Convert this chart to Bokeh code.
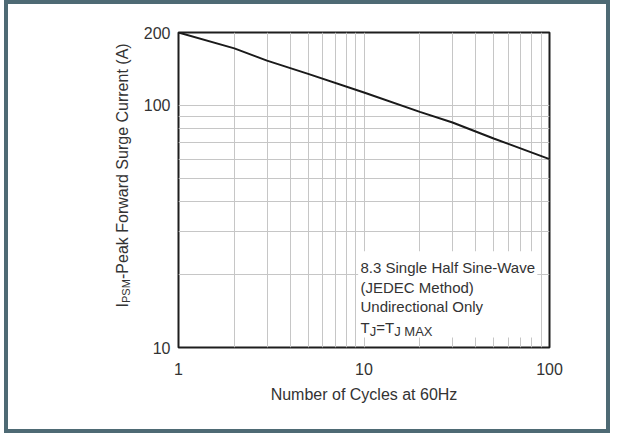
import math
from bokeh.plotting import figure
from bokeh.models import (FixedTicker, BoxAnnotation, Label, Range1d, NumeralTickFormatter,
                          Title, LogAxis)
from bokeh.embed import file_html
from bokeh.resources import INLINE

# ---- data ----
cycles = [1, 2, 3, 5, 10, 20, 30, 50, 100]
current = [200, 172, 153, 135, 113, 94, 85, 73, 60]
x_ticks = [1, 10, 100]
x_minor = [2, 3, 4, 5, 6, 7, 8, 9, 20, 30, 40, 50, 60, 70, 80, 90]
y_ticks = [10, 100, 200]
y_minor = [20, 30, 40, 50, 60, 70, 80, 90]
note_lines = ["8.3 Single Half Sine-Wave", "(JEDEC Method)", "Undirectional Only"]
x_title = "Number of Cycles at 60Hz"
y_title_main = "I"
y_title_sub = "PSM"
y_title_rest = "-Peak Forward Surge Current (A)"

FONT = "Liberation Sans"
TXT = "#333333"
FRAME_C = "#4e6a74"

W, H = 615, 433
FL, FT, FW, FH = 178, 32, 371, 315

p = figure(width=W, height=H, x_axis_type="log", y_axis_type="log",
           x_range=Range1d(1, 100), y_range=Range1d(10, 200),
           output_backend="svg", toolbar_location=None,
           min_border_left=FL, min_border_top=FT,
           min_border_right=W - FL - FW, min_border_bottom=H - FT - FH)
p.background_fill_color = "white"
p.border_fill_color = None
p.outline_line_color = "#1e1e1e"
p.outline_line_width = 2
p.styles = {"box-shadow": (f"inset 4px 0 0 0 #ffffff, inset -5px 0 0 0 #ffffff, "
                           f"inset 8px 0 0 0 {FRAME_C}, inset -9px 0 0 0 {FRAME_C}, "
                           f"inset 0 -4px 0 0 {FRAME_C}, inset 0 4px 0 0 {FRAME_C}")}

xt = FixedTicker(ticks=x_ticks, minor_ticks=x_minor)
yt = FixedTicker(ticks=y_ticks, minor_ticks=y_minor)
p.xaxis.ticker = xt
p.yaxis.ticker = yt
p.xgrid.ticker = xt
p.ygrid.ticker = yt
for g in (p.xgrid, p.ygrid):
    g.grid_line_color = "#c6c6c6"
    g.grid_line_width = 1
    g.minor_grid_line_color = "#c6c6c6"
    g.minor_grid_line_width = 1

for ax in (p.xaxis, p.yaxis):
    ax.formatter = NumeralTickFormatter(format="0")
    ax.axis_line_color = None
    ax.major_tick_line_color = None
    ax.minor_tick_line_color = None
    ax.major_tick_out = 0
    ax.minor_tick_out = 0
    ax.major_label_text_font = FONT
    ax.major_label_text_font_size = "16px"
    ax.major_label_text_color = TXT
p.yaxis.major_label_standoff = 8
p.xaxis.major_label_standoff = 15
p.xaxis.axis_label = x_title
p.xaxis.axis_label_text_font = FONT
p.xaxis.axis_label_text_font_size = "16px"
p.xaxis.axis_label_text_font_style = "normal"
p.xaxis.axis_label_text_color = TXT
p.xaxis.axis_label_standoff = 8

p.line(cycles, current, line_color="#1a1a1a", line_width=2)

def sx(cx):
    return cx - FL

def sy(cy):
    return (FT + FH) - cy

# white box behind the note
p.add_layout(BoxAnnotation(left=9.3, right=86, bottom=11, top=25,
                           fill_color="white", fill_alpha=1, line_color=None))

base_y = [267, 287, 306]
for t, by in zip(note_lines, base_y):
    p.add_layout(Label(x=sx(360), y=sy(by), x_units="screen", y_units="screen", text=t,
                       text_font=FONT, text_font_size="15px", text_color=TXT,
                       text_baseline="alphabetic", text_align="left"))
last = [("T", 360, 327, "15px"), ("J", 369.2, 331, "13px"), ("=T", 375.7, 327, "15px"),
        ("J MAX", 393.7, 331, "13px")]
for t, cx, cy, fs in last:
    p.add_layout(Label(x=sx(cx), y=sy(cy), x_units="screen", y_units="screen", text=t,
                       text_font=FONT, text_font_size=fs, text_color=TXT,
                       text_baseline="alphabetic", text_align="left"))

# invisible spacer axis between tick labels and the y title
spacer = LogAxis(ticker=FixedTicker(ticks=[y_ticks[0]]), axis_line_color=None,
                 formatter=NumeralTickFormatter(format="0"),
                 major_tick_line_color="white", minor_tick_line_color=None,
                 major_tick_out=11, major_tick_in=0, minor_tick_out=0,
                 major_label_standoff=0, major_label_text_color=None,
                 major_label_text_font_size="1px")
p.add_layout(spacer, "left")

# y title pieces as side titles
for t, off, fs, so in [(y_title_sub, 44.5, "11px", -5), (y_title_main, 40, "16px", -20),
                       (y_title_rest, 68.5, "16px", -20)]:
    p.add_layout(Title(text=t, align="left", vertical_align="bottom", offset=off, standoff=so,
                       text_font=FONT, text_font_size=fs, text_font_style="normal",
                       text_color=TXT), "left")

open("out.html", "w").write(file_html(p, INLINE))
